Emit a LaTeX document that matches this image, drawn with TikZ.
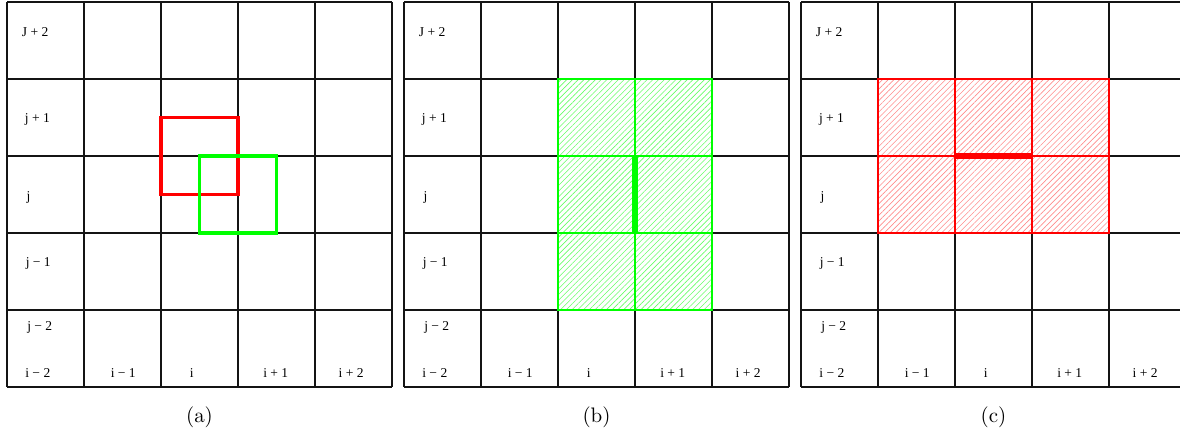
\documentclass[tikz,border=0pt]{standalone}
\usepackage{fontspec}
\newfontfamily\lblfont{Liberation Serif}
\newfontfamily\capfont[Extension=.otf]{lmroman10-regular}
\usepackage{tikz}
\usetikzlibrary{patterns.meta}
\definecolor{gdred}{HTML}{FF0000}
\definecolor{gdgreen}{HTML}{00FF00}
\definecolor{gdgrid}{HTML}{141414}

\begin{document}
\begin{tikzpicture}[x=2cm,y=2cm,
  gridline/.style={draw=gdgrid,line width=0.8pt},
  lbl/.style={font=\lblfont\fontsize{10}{12}\selectfont,inner sep=0pt,text=black},
  captext/.style={font=\capfont\fontsize{15.5}{18}\selectfont,inner sep=0pt,anchor=base},
  hatchred/.style={pattern={Lines[angle=45,distance=3pt,line width=0.45pt]},pattern color=gdred!45,draw=gdred,line width=0.85pt},
  hatchgreen/.style={pattern={Lines[angle=45,distance=3pt,line width=0.45pt]},pattern color=gdgreen!60,draw=gdgreen,line width=0.85pt},
  stencil/.style={line width=2.3pt},
  flux/.style={line width=4.4pt}]
\useasboundingbox (-0.091,-0.610) rectangle (15.234,5.026);
% three panels: grid, index labels, caption
\foreach \p/\s in {a/0,b/5.156,c/10.312}{
\begin{scope}[shift={(\s,0)}]
\foreach \k in {0,...,5}{\draw[gridline] (\k,0) -- (\k,5);\draw[gridline] (0,\k) -- (5,\k);}
\node[lbl,anchor=base west] (\p-r4) at (0.19,4.55) {J + 2};\node[lbl,anchor=base west] (\p-r3) at (0.23,3.433) {j + 1};\node[lbl,anchor=base west] (\p-r2) at (0.25,2.416) {j};\node[lbl,anchor=base west] (\p-r1) at (0.24,1.56) {j − 1};\node[lbl,anchor=base west] (\p-r0) at (0.26,0.73) {j − 2};
\node[lbl,anchor=base] (\p-c0) at (0.40,0.126) {i − 2};\node[lbl,anchor=base] (\p-c1) at (1.51,0.126) {i − 1};\node[lbl,anchor=base] (\p-c2) at (2.40,0.126) {i};\node[lbl,anchor=base] (\p-c3) at (3.49,0.126) {i + 1};\node[lbl,anchor=base] (\p-c4) at (4.47,0.126) {i + 2};
\node[captext] (\p-cap) at (2.5,-0.455) {(\p)};
\end{scope}}
% (a) staggered cells
\draw[gdred,stencil] (2,2.5) rectangle (3,3.5);
\draw[gdgreen,stencil] (2.5,2) rectangle (3.5,3);
% (b) vertical face
\begin{scope}[shift={(5.156,0)}]
\draw[hatchgreen] (2,1) rectangle (4,4);
\draw[gdgreen,line width=0.85pt] (3,1) -- (3,4) (2,2) -- (4,2) (2,3) -- (4,3);
\draw[gdgreen,flux] (3,2) -- (3,3);
\end{scope}
% (c) horizontal face
\begin{scope}[shift={(10.312,0)}]
\draw[hatchred] (1,2) rectangle (4,4);
\draw[gdred,line width=0.85pt] (2,2) -- (2,4) (3,2) -- (3,4) (1,3) -- (4,3);
\draw[gdred,flux] (2,3) -- (3,3);
\end{scope}
\end{tikzpicture}
\end{document}
